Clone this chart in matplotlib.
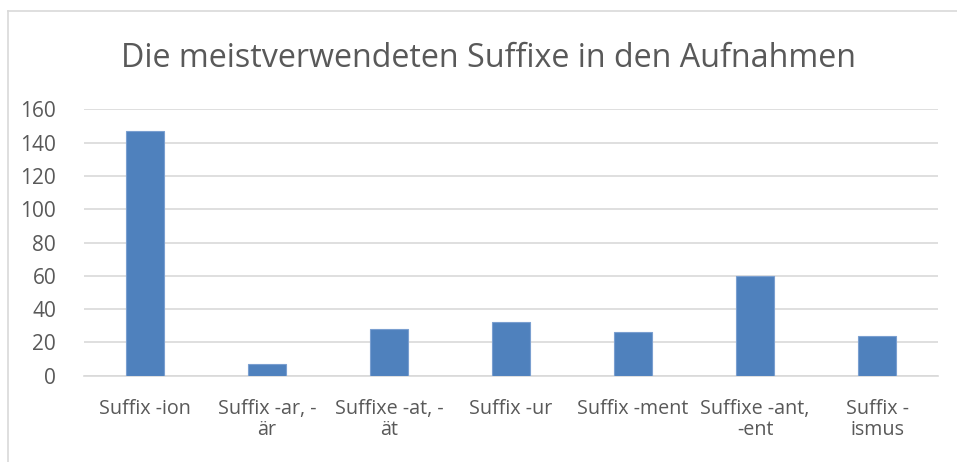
import matplotlib.pyplot as plt
from matplotlib.lines import Line2D

CATEGORIES = [
    "Suffix -ion",
    "Suffix -ar, -\när",
    "Suffixe -at, -\nät",
    "Suffix -ur",
    "Suffix -ment",
    "Suffixe -ant,\n-ent",
    "Suffix -\nismus",
]
VALUES = [147, 7, 28, 32, 26, 60, 24]
Y_TICKS = [0, 20, 40, 60, 80, 100, 120, 140, 160]

TEXT_COLOR = "#595959"
GRID_COLOR = "#d9d9d9"
BAR_COLOR = "#4f81bd"

plt.rcParams["font.family"] = ["Open Sans", "DejaVu Sans"]


def main():
    fig = plt.figure(figsize=(9.57, 4.62), dpi=100)
    ax = fig.add_axes([0.0878, 0.1872, 0.8924, 0.5758])

    x = list(range(len(CATEGORIES)))
    ax.bar(x, VALUES, width=0.31, color=BAR_COLOR, edgecolor="#7a9fd0",
           linewidth=0.8, zorder=3)

    ax.set_xlim(-0.5, len(CATEGORIES) - 0.5)
    ax.set_ylim(0, 160)
    ax.set_yticks(Y_TICKS)
    ax.set_xticks(x)
    ax.set_xticklabels(CATEGORIES, linespacing=1.05)
    ax.tick_params(axis="x", length=0, labelsize=14.2, colors=TEXT_COLOR, pad=17)
    ax.tick_params(axis="y", length=0, labelsize=15, colors=TEXT_COLOR, pad=20)

    ax.grid(axis="y", color=GRID_COLOR, linewidth=1.2, zorder=0)
    for side in ["top", "right", "left"]:
        ax.spines[side].set_visible(False)
    ax.spines["bottom"].set_color(GRID_COLOR)
    ax.spines["bottom"].set_linewidth(1.2)

    fig.text(0.5105, 0.874, "Die meistverwendeten Suffixe in den Aufnahmen",
             ha="center", va="center", fontsize=23.2, color=TEXT_COLOR)

    # chart frame (only left and top edges are visible in the crop)
    fig.add_artist(Line2D([0.0084, 0.0084], [0.0, 0.976], color=GRID_COLOR,
                          linewidth=1.2, transform=fig.transFigure))
    fig.add_artist(Line2D([0.0084, 1.0], [0.976, 0.976], color=GRID_COLOR,
                          linewidth=1.2, transform=fig.transFigure))

    fig.savefig("out.png", dpi=100)


if __name__ == "__main__":
    main()
